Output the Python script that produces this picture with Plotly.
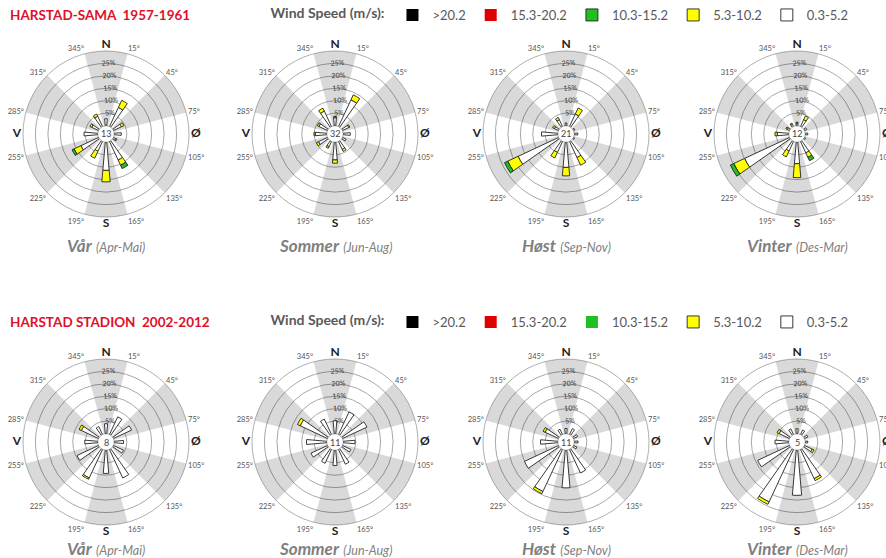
import plotly.graph_objects as go

# Wind direction bins (degrees, clockwise from north), 30-degree sectors
DIRECTIONS = [0, 30, 60, 90, 120, 150, 180, 210, 240, 270, 300, 330]
SHADED_SECTORS = [0, 60, 120, 180, 240, 300]
RADIAL_MAX = 30
RING_VALUES = [0, 5, 10, 15, 20, 25]
RING_LABELS = ["", "5%", "10%", "15%", "20%", "25%"]

ANGLE_TICKS = [0, 15, 45, 75, 90, 105, 135, 165, 180, 195, 225, 255, 270, 285, 315, 345]
ANGLE_TEXT = ["N", "15°", "45°", "75°", "Ø", "105°", "135°", "165°", "S",
              "195°", "225°", "255°", "V", "285°", "315°", "345°"]
CARDINALS = {"N", "Ø", "S", "V"}

SPEED_CLASSES = ["0.3-5.2", "5.3-10.2", "10.3-15.2", "15.3-20.2", ">20.2"]
CLASS_COLORS = ["#ffffff", "#ffff00", "#1fc01f", "#e00000", "#000000"]

SEASONS = ["Vår", "Sommer", "Høst", "Vinter"]
SEASON_MONTHS = ["(Apr-Mai)", "(Jun-Aug)", "(Sep-Nov)", "(Des-Mar)"]
STATIONS = ["HARSTAD-SAMA\u00a0\u00a01957-1961", "HARSTAD STADION\u00a0\u00a02002-2012"]

NO_WIND = [0, 0, 0, 0, 0, 0, 0, 0, 0, 0, 0, 0]

# Harstad-Sama 1957-1961, frequency (%) per direction and speed class
SAMA_VAR_CALM = 13
SAMA_VAR_LOW = [2.8, 8.4, 3.5, 2.8, 1.0, 8.2, 11.3, 4.3, 7.8, 5.5, 3.0, 4.5]
SAMA_VAR_MID = [0, 3.2, 1.1, 0, 0.5, 2.3, 4.6, 3.1, 3.0, 0, 0.8, 1.0]
SAMA_VAR_HIGH = [0, 0, 0, 0, 0, 1.5, 0, 0, 0.9, 0, 0, 0]

SAMA_SOM_CALM = 32
SAMA_SOM_LOW = [3.2, 11.8, 2.8, 2.8, 1.6, 3.5, 7.1, 2.3, 4.0, 4.6, 3.8, 6.8]
SAMA_SOM_MID = [0.5, 2.2, 0.4, 0, 0, 0.9, 1.3, 0.7, 0.9, 0.5, 0.7, 1.3]
SAMA_SOM_HIGH = NO_WIND

SAMA_HOST_CALM = 21
SAMA_HOST_LOW = [1.1, 5.5, 0.6, 1.4, 0.5, 7.1, 10.1, 4.8, 17.9, 6.5, 1.8, 3.0]
SAMA_HOST_MID = [0, 2.7, 0, 0, 0, 3.4, 3.4, 2.5, 4.6, 0, 0.8, 1.0]
SAMA_HOST_HIGH = [0, 0, 0, 0, 0, 0, 0, 0, 1.4, 0, 0, 0]

SAMA_VIN_CALM = 12
SAMA_VIN_LOW = [1.0, 3.0, 1.0, 1.0, 0.5, 5.0, 8.6, 4.2, 19.9, 4.6, 1.0, 1.0]
SAMA_VIN_MID = [0.4, 1.7, 0, 0, 0, 2.0, 5.6, 2.6, 4.8, 0.9, 0.6, 0.5]
SAMA_VIN_HIGH = [0, 0, 0, 0, 0, 1.5, 0, 0, 1.5, 0, 0, 0]

# Harstad Stadion 2002-2012
STAD_VAR_CALM = 8
STAD_VAR_LOW = [4.0, 7.8, 8.0, 3.7, 4.4, 12.6, 9.3, 12.6, 9.5, 5.2, 7.6, 3.5]
STAD_VAR_MID = [0, 0, 0, 0, 0, 0, 0, 0.6, 0, 0, 1.0, 0]

STAD_SOM_CALM = 11
STAD_SOM_LOW = [5.2, 10.0, 10.8, 4.7, 3.7, 6.5, 6.1, 6.1, 7.3, 8.1, 12.1, 6.8]
STAD_SOM_MID = [0, 0, 0, 0, 0, 0, 0, 0, 0, 0, 1.2, 0]

STAD_HOST_CALM = 11
STAD_HOST_LOW = [2.1, 2.6, 1.8, 1.5, 1.5, 10.4, 15.1, 18.6, 15.1, 6.9, 5.9, 2.3]
STAD_HOST_MID = [0, 0, 0, 0, 0, 0, 0, 1.0, 0, 0, 0.9, 0]

STAD_VIN_CALM = 5
STAD_VIN_LOW = [2.0, 2.0, 1.5, 1.0, 3.4, 12.9, 18.1, 23.2, 14.1, 5.5, 4.6, 2.5]
STAD_VIN_MID = [0, 0, 0, 0, 0.8, 0.9, 0, 1.1, 0, 0, 0.9, 0]

ROSES = [
    (SAMA_VAR_CALM, [SAMA_VAR_LOW, SAMA_VAR_MID, SAMA_VAR_HIGH, NO_WIND, NO_WIND]),
    (SAMA_SOM_CALM, [SAMA_SOM_LOW, SAMA_SOM_MID, SAMA_SOM_HIGH, NO_WIND, NO_WIND]),
    (SAMA_HOST_CALM, [SAMA_HOST_LOW, SAMA_HOST_MID, SAMA_HOST_HIGH, NO_WIND, NO_WIND]),
    (SAMA_VIN_CALM, [SAMA_VIN_LOW, SAMA_VIN_MID, SAMA_VIN_HIGH, NO_WIND, NO_WIND]),
    (STAD_VAR_CALM, [STAD_VAR_LOW, STAD_VAR_MID, NO_WIND, NO_WIND, NO_WIND]),
    (STAD_SOM_CALM, [STAD_SOM_LOW, STAD_SOM_MID, NO_WIND, NO_WIND, NO_WIND]),
    (STAD_HOST_CALM, [STAD_HOST_LOW, STAD_HOST_MID, NO_WIND, NO_WIND, NO_WIND]),
    (STAD_VIN_CALM, [STAD_VIN_LOW, STAD_VIN_MID, NO_WIND, NO_WIND, NO_WIND]),
]

# Page geometry (pixels)
W, H = 886, 558
COL_X = [106, 335, 566, 797]
ROW_Y = [134, 442]
RADIUS = 83
CAPTION_Y = [245, 548]
HEADER_Y = [15, 322]

FONT = "Lato, 'Open Sans', sans-serif"

fig = go.Figure()


def angle_label(t):
    if t in CARDINALS:
        return f"<b><span style='font-size:12px;fill:#222'>{t}</span></b>"
    return t


for idx, (calm, classes) in enumerate(ROSES):
    row, col = divmod(idx, 4)
    sub = "polar" if idx == 0 else f"polar{idx + 1}"
    legend_ref = "legend" if row == 0 else "legend2"

    # alternating shaded 30-degree sectors
    fig.add_trace(go.Barpolar(
        r=[RADIAL_MAX] * len(SHADED_SECTORS), theta=SHADED_SECTORS, width=30,
        marker=dict(color="rgba(0,0,0,0.15)", line=dict(width=0)),
        showlegend=False, hoverinfo="skip", subplot=sub,
    ))

    base = [0.0] * len(DIRECTIONS)
    for k, values in enumerate(classes):
        present = [i for i, v in enumerate(values) if v > 0]
        if present:
            th = [DIRECTIONS[i] for i in present]
            rr = [values[i] for i in present]
            bb = [base[i] for i in present]
            line = dict(color="#222222", width=0.9)
        else:
            # class never observed: keep a zero-height entry so the legend lists it
            th, rr, bb = [DIRECTIONS[0]], [0], [0]
            line = dict(color="#222222", width=[0])
        fig.add_trace(go.Barpolar(
            r=rr, theta=th, base=bb, width=10,
            name=SPEED_CLASSES[k], legendgroup=f"{row}-{SPEED_CLASSES[k]}",
            legend=legend_ref, showlegend=(col == 0),
            marker=dict(color=CLASS_COLORS[k], line=line),
            subplot=sub,
        ))
        base = [b + v for b, v in zip(base, values)]

    cx, cy = COL_X[col], ROW_Y[row]
    dom_x = [(cx - RADIUS) / W, (cx + RADIUS) / W]
    dom_y = [1 - (cy + RADIUS) / H, 1 - (cy - RADIUS) / H]
    fig.update_layout({sub: dict(
        domain=dict(x=dom_x, y=dom_y),
        bgcolor="white",
        hole=0.1,
        barmode="overlay",
        angularaxis=dict(
            rotation=90, direction="clockwise",
            tickmode="array", tickvals=ANGLE_TICKS,
            ticktext=[angle_label(t) for t in ANGLE_TEXT],
            tickfont=dict(size=7.5, color="#555555", family=FONT),
            showgrid=False, ticks="", showline=True,
            linecolor="#b0b0b0", linewidth=1, layer="below traces",
        ),
        radialaxis=dict(
            range=[0, RADIAL_MAX], tickmode="array",
            tickvals=RING_VALUES, ticktext=RING_LABELS,
            tickfont=dict(size=7, color="#444444", family=FONT),
            angle=94, tickangle=90, showline=False, ticks="",
            gridcolor="#a8a8a8", gridwidth=0.8, layer="below traces",
        ),
    )})

    xc = (dom_x[0] + dom_x[1]) / 2
    yc = (dom_y[0] + dom_y[1]) / 2
    # calm percentage in the centre
    fig.add_annotation(x=xc, y=yc, xref="paper", yref="paper", text=str(calm),
                       xanchor="center", yanchor="middle", showarrow=False,
                       font=dict(size=9, color="#444444", family=FONT))
    # season caption
    fig.add_annotation(
        x=xc, y=1 - CAPTION_Y[row] / H, xref="paper", yref="paper", showarrow=False,
        xanchor="center", yanchor="middle",
        text=(f"<i><b>{SEASONS[col]}</b></i> "
              f"<i><span style='font-size:12.5px'>{SEASON_MONTHS[col]}</span></i>"),
        font=dict(size=17, color="#808080", family=FONT),
    )

for row, name in enumerate(STATIONS):
    fig.add_annotation(x=8 / W, y=1 - HEADER_Y[row] / H, xref="paper", yref="paper",
                       xanchor="left", yanchor="middle", showarrow=False,
                       text=f"<b>{name}</b>",
                       font=dict(size=13.5, color="#e0102a", family=FONT))

legend_style = dict(
    orientation="h", xanchor="left", yanchor="middle", x=0.303,
    traceorder="reversed", bgcolor="rgba(0,0,0,0)",
    font=dict(size=13, color="#595959", family=FONT),
    title=dict(text="<b>Wind Speed (m/s):</b>", side="left",
               font=dict(size=14, color="#595959", family=FONT)),
    itemwidth=30,
)

fig.update_layout(
    width=W, height=H,
    margin=dict(l=0, r=0, t=0, b=0),
    paper_bgcolor="white",
    font=dict(family=FONT),
    legend=dict(legend_style, y=1 - HEADER_Y[0] / H),
    legend2=dict(legend_style, y=1 - HEADER_Y[1] / H),
)

fig.write_html("out.html")
